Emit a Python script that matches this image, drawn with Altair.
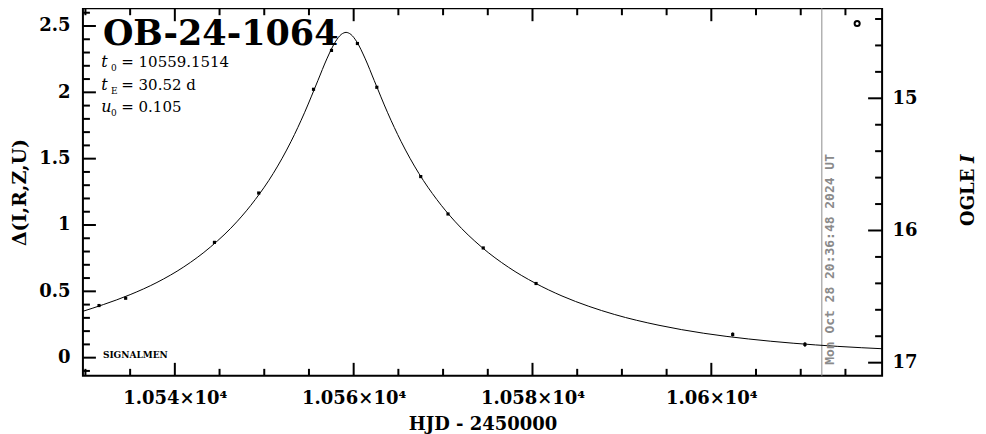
import altair as alt
import pandas as pd

# ---- model curve ----
curve_t = [10529.5, 10532, 10535, 10538, 10541, 10544, 10547, 10549, 10551, 10553,
           10554.5, 10556, 10557, 10558, 10558.6, 10558.9, 10559.15, 10559.4, 10559.7,
           10560.3, 10561.3, 10562.3, 10563.8, 10565.3, 10567.3, 10569.3, 10571.3,
           10574.3, 10577.3, 10580.3, 10583.3, 10586.3, 10589.15, 10594.15, 10599.15,
           10604.15, 10609.15, 10614.15, 10619.5]
curve_d = [0.345, 0.400, 0.475, 0.567, 0.684, 0.835, 1.029, 1.192, 1.388, 1.630,
           1.846, 2.089, 2.252, 2.386, 2.436, 2.448, 2.452, 2.448, 2.436,
           2.386, 2.252, 2.089, 1.846, 1.630, 1.388, 1.192, 1.029,
           0.834, 0.682, 0.562, 0.465, 0.387, 0.326, 0.244, 0.184,
           0.141, 0.109, 0.085, 0.066]

# ---- observations ----
obs_t = [10531.52, 10534.50, 10544.43, 10549.38, 10555.51, 10557.52, 10560.42,
         10562.59, 10567.50, 10570.55, 10574.49, 10580.40, 10602.39, 10610.47]
obs_d = [0.393, 0.448, 0.869, 1.241, 2.023, 2.316, 2.368,
         2.038, 1.365, 1.083, 0.827, 0.559, 0.175, 0.100]
obs_err = [0.006, 0.006, 0.006, 0.006, 0.006, 0.006, 0.006,
           0.006, 0.006, 0.006, 0.006, 0.006, 0.015, 0.017]

now_t = [10612.36]
now_label = ["Mon Oct 28 20:36:48 2024 UT"]
marker_t = [10616.31]
marker_d = [2.519]

# ---- tick values ----
x_major = [10540, 10560, 10580, 10600]
x_minor = [10530, 10535, 10545, 10550, 10555, 10565, 10570, 10575, 10585, 10590,
           10595, 10605, 10610, 10615]
d_major = [0, 0.5, 1, 1.5, 2, 2.5]
d_minor = [-0.1, 0.1, 0.2, 0.3, 0.4, 0.6, 0.7, 0.8, 0.9, 1.1, 1.2, 1.3, 1.4,
           1.6, 1.7, 1.8, 1.9, 2.1, 2.2, 2.3, 2.4, 2.6]
m_major = [15, 16, 17]
m_minor = [14.4, 14.6, 14.8, 15.2, 15.4, 15.6, 15.8, 16.2, 16.4, 16.6, 16.8]

# ---- texts ----
event_name = "OB-24-1064"
param_symbols = ["t", "t", "u"]
param_subs = ["0", "E", "0"]
param_values = ["= 10559.1514", "= 30.52 d", "= 0.105"]
footer = "SIGNALMEN"
x_title = "HJD - 2450000"
y_title = "Δ(I,R,Z,U)"
r_title = ["OGLE", "I"]

W, H = 800, 368
FONT = "DejaVu Serif"

X_SCALE = alt.Scale(domain=[10529.72, 10619.1], nice=False, zero=False)
D_SCALE = alt.Scale(domain=[-0.137, 2.634], nice=False, zero=False)
M_SCALE = alt.Scale(domain=[14.3185, 17.0996], reverse=True, nice=False, zero=False)

x_axis = alt.Axis(values=x_major,
                  labelExpr="format(datum.value / 10000, '.4~f') + '×10⁴'",
                  ticks=False, tickSize=0, domain=False, grid=False,
                  labelFont=FONT, labelFontWeight="bold", labelFontSize=18,
                  labelColor="black", labelPadding=28, labelBaseline="alphabetic",
                  labelFlush=False, labelOverlap=False,
                  title=x_title, titleFont=FONT, titleFontWeight="bold",
                  titleFontSize=18, titleColor="black", titleX=400, titleY=54,
                  titleAlign="center", titleBaseline="alphabetic")

y_axis = alt.Axis(orient="left", values=d_major, format="~g",
                  ticks=False, tickSize=0, domain=False, grid=False,
                  labelFont=FONT, labelFontWeight="bold", labelFontSize=18,
                  labelColor="black", labelPadding=13, labelBaseline="middle",
                  labelFlush=False, labelOverlap=False,
                  title=y_title, titleFont=FONT, titleFontWeight="bold",
                  titleFontSize=19, titleColor="black", titleX=-63, titleY=184,
                  titleAngle=270, titleAlign="center", titleBaseline="middle")

m_axis = alt.Axis(orient="right", values=m_major, format="d",
                  ticks=False, tickSize=0, domain=False, grid=False,
                  labelFont=FONT, labelFontWeight="bold", labelFontSize=18,
                  labelColor="black", labelPadding=10, labelBaseline="middle",
                  labelFlush=False, labelOverlap=False, title="")

X = alt.X("t:Q", scale=X_SCALE, axis=x_axis)
Y = alt.Y("d:Q", scale=D_SCALE, axis=y_axis)

curve = alt.Chart(pd.DataFrame({"t": curve_t, "d": curve_d})).mark_line(
    color="black", strokeWidth=1, interpolate="monotone", clip=True
).encode(x=X, y=Y)

obs_df = pd.DataFrame({"t": obs_t, "d": obs_d,
                       "lo": [d - e for d, e in zip(obs_d, obs_err)],
                       "hi": [d + e for d, e in zip(obs_d, obs_err)]})
err = alt.Chart(obs_df).mark_rule(color="black", strokeWidth=1.5).encode(
    x=X, y=alt.Y("lo:Q", scale=D_SCALE, axis=y_axis), y2="hi:Q")
pts = alt.Chart(obs_df).mark_square(color="black", size=10, opacity=1).encode(x=X, y=Y)

vline = alt.Chart(pd.DataFrame({"t": now_t})).mark_rule(
    color="#8c8c8c", strokeWidth=1).encode(x=X, y=alt.value(0), y2=alt.value(H))

marker = alt.Chart(pd.DataFrame({"t": marker_t, "d": marker_d})).mark_point(
    shape="circle", filled=False, size=26, strokeWidth=2, color="black", opacity=1
).encode(x=X, y=Y)

def rules_x(vals, y0, y1):
    return alt.Chart(pd.DataFrame({"t": vals})).mark_rule(
        color="black", strokeWidth=2).encode(x=X, y=alt.value(y0), y2=alt.value(y1))

def rules_d(vals, length):
    return alt.Chart(pd.DataFrame({"d": vals})).mark_rule(
        color="black", strokeWidth=2).encode(y=Y, x=alt.value(0), x2=alt.value(length))

def rules_m(vals, length):
    return alt.Chart(pd.DataFrame({"m": vals})).mark_rule(
        color="black", strokeWidth=2).encode(
        y=alt.Y("m:Q", scale=M_SCALE, axis=m_axis),
        x=alt.value(W), x2=alt.value(W - length))

def text(label, x, y, **kw):
    return alt.Chart(alt.Data(values=[{"label": label}])).mark_text(**kw).encode(
        x=alt.value(x), y=alt.value(y), text="label:N")

texts = [
    text(event_name, 20, 37, font=FONT, fontWeight="bold", fontSize=35,
         align="left", baseline="alphabetic", color="black"),
    text(footer, 20, 350, font=FONT, fontWeight="bold", fontSize=9,
         align="left", baseline="alphabetic", color="black"),
    text(now_label[0], 748, 357, font="DejaVu Sans Mono", fontWeight="bold",
         fontSize=13, angle=270, align="left", baseline="middle", color="#8a8a8a"),
    text(r_title[0], 887, 218, font=FONT, fontWeight="bold", fontSize=18,
         angle=270, align="left", baseline="middle", color="black"),
    text(r_title[1], 887, 155, font=FONT, fontWeight="bold", fontStyle="italic",
         fontSize=18, angle=270, align="left", baseline="middle", color="black"),
]
line_y = [58.7, 81.5, 103.7]
for sym, sub, val, yy in zip(param_symbols, param_subs, param_values, line_y):
    texts.append(text(sym, 18.4, yy, font=FONT, fontStyle="italic", fontSize=16,
                      align="left", baseline="alphabetic", color="black"))
    texts.append(text(sub, 28, yy + 4.5, font=FONT, fontSize=9,
                      align="left", baseline="alphabetic", color="black"))
    texts.append(text(val, 38.4, yy, font=FONT, fontSize=15,
                      align="left", baseline="alphabetic", color="black"))

left = alt.layer(
    vline, curve, err, pts, marker,
    rules_x(x_major, H, H - 13), rules_x(x_minor, H, H - 7),
    rules_x(x_major, 0, 13), rules_x(x_minor, 0, 7),
    rules_d(d_major, 13), rules_d(d_minor, 7),
    *texts
)
right = alt.layer(rules_m(m_major, 14), rules_m(m_minor, 7))

chart = alt.layer(left, right).resolve_scale(y="independent").properties(
    width=W, height=H,
    autosize=alt.AutoSizeParams(type="none"),
    padding={"left": 75, "top": 0, "right": 96, "bottom": 58},
    background="white",
).configure_view(stroke="black", strokeWidth=2)

chart.save("out.html", embed_options={"renderer": "svg", "actions": False})
